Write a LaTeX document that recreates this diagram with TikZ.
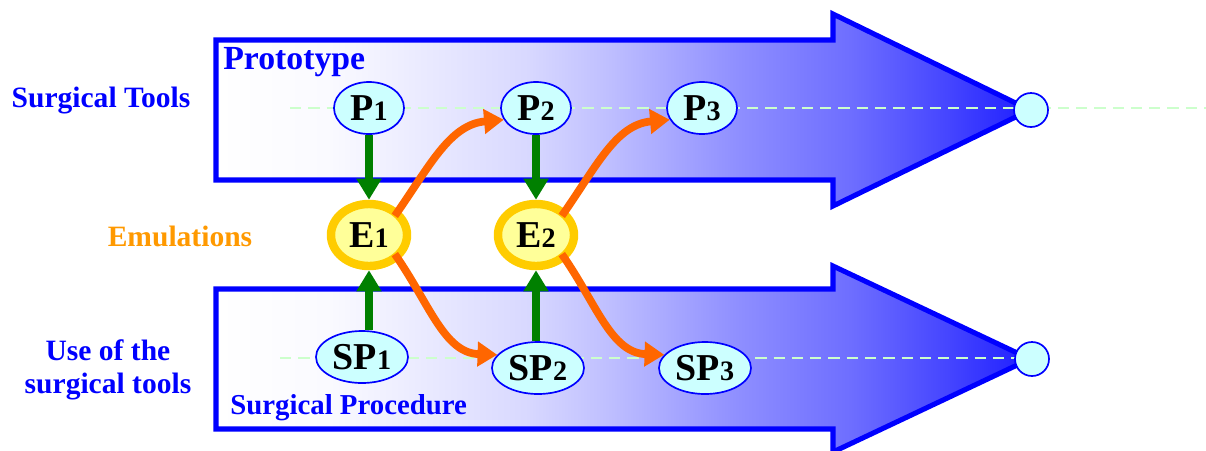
\documentclass[tikz,border=0pt]{standalone}
\usepackage{fontspec}
\setmainfont{Liberation Serif}
\usetikzlibrary{positioning,shapes.geometric,arrows.meta}
\definecolor{edge}{HTML}{0000FF}
\definecolor{cyan}{HTML}{CCFFFF}
\definecolor{lemon}{HTML}{FFFF99}
\definecolor{gold}{HTML}{FFCC00}
\definecolor{leaf}{HTML}{008000}
\definecolor{flame}{HTML}{FF6600}
\definecolor{amber}{HTML}{FF9900}
\definecolor{mint}{HTML}{CCFFCC}
\pgfdeclarehorizontalshading{timeline}{100bp}{%
  rgb(0bp)=(1,1,1); rgb(25bp)=(1,1,1); rgb(32bp)=(0.98,0.98,1);
  rgb(44bp)=(0.85,0.85,1); rgb(49bp)=(0.75,0.75,1); rgb(57bp)=(0.56,0.56,1);
  rgb(64bp)=(0.43,0.43,1); rgb(70bp)=(0.27,0.27,1); rgb(75bp)=(0.12,0.12,1);
  rgb(100bp)=(0.12,0.12,1)}
\newcommand{\stage}[2]{\textbf{#1}{\fontsize{20}{21}\selectfont\bfseries #2}}

\begin{document}
\begin{tikzpicture}[x=0.025cm, y=-0.025cm,
  every node/.style={inner sep=0pt},
  bigarrow/.style={draw=edge, line width=3.6pt, miter limit=20, shade, shading=timeline},
  track/.style={mint, line width=1.2pt, dash pattern=on 8pt off 5pt},
  side/.style={font=\fontsize{21}{23.5}\selectfont\bfseries, text=edge, align=center},
  pnode/.style={ellipse, draw=edge, line width=1.2pt, fill=cyan, minimum width=1.75cm, minimum height=1.3cm, font=\fontsize{27}{29}\selectfont},
  spnode/.style={pnode, minimum width=2.3cm},
  enode/.style={ellipse, draw=gold, line width=6pt, fill=lemon, minimum width=1.9cm, minimum height=1.55cm, font=\fontsize{27}{29}\selectfont},
  endnode/.style={circle, draw=edge, line width=1.2pt, fill=cyan, minimum size=0.85cm},
  tie/.style={leaf, line width=5.5pt, -{Triangle[length=15pt, width=17pt]}},
  flow/.style={flame, line width=5.5pt, shorten <=-5pt, -{Triangle[length=14pt, width=17pt]}}]
\useasboundingbox (0,0) rectangle (1206,450);
% the two big arrows
\draw[bigarrow] (216,40) -- (833,40) -- (833,14) -- (1030,110) -- (833,206) -- (833,180) -- (216,180) -- cycle;
\draw[bigarrow] (216,289) -- (833,289) -- (833,266) -- (1030,359) -- (833,452) -- (833,429) -- (216,429) -- cycle;
% guide lines
\coordinate (tstart) at (290,108);
\coordinate (tstop) at (1206,108);
\coordinate (bstart) at (280,358);
\coordinate (bstop) at (1050,358);
\draw[track] (tstart) -- (tstop);
\draw[track] (bstart) -- (bstop);
% labels
\node[side] (tools) at (101,101) {Surgical Tools};
\node[side, text=amber] (emu) at (180,236) {Emulations};
\node[side] (use) at (108,370) {Use of the\\surgical tools};
\node[side, font=\fontsize{24}{26}\selectfont\bfseries, anchor=west] (proto) at (223,62) {Prototype};
\node[side, font=\fontsize{20.5}{23}\selectfont\bfseries, anchor=west] (proc) at (230,408) {Surgical Procedure};
% nodes
\node[pnode] (P1) at (369,108) {\stage{P}{1}};
\node[pnode] (P2) at (536,108) {\stage{P}{2}};
\node[pnode] (P3) at (702,108) {\stage{P}{3}};
\node[enode] (E1) at (369,235) {\stage{E}{1}};
\node[enode] (E2) at (536,235) {\stage{E}{2}};
\node[spnode] (SP1) at (362,357) {\stage{SP}{1}};
\node[spnode] (SP2) at (538,368) {\stage{SP}{2}};
\node[spnode] (SP3) at (705,368) {\stage{SP}{3}};
\node[endnode] (tend) at (1031,110) {};
\node[endnode] (bend) at (1032,359) {};
% links
\draw[tie] (P1) -- (E1);
\draw[tie] (SP1.north -| E1) -- (E1);
\draw[tie] (P2) -- (E2);
\draw[tie] (SP2.north -| E2) -- (E2);
\draw[flow] (E1.north east) to[out=55, in=185] (P2.200);
\draw[flow] (E1.south east) to[out=-55, in=178] (SP2.162);
\draw[flow] (E2.north east) to[out=55, in=185] (P3.200);
\draw[flow] (E2.south east) to[out=-55, in=178] (SP3.162);
\end{tikzpicture}
\end{document}
